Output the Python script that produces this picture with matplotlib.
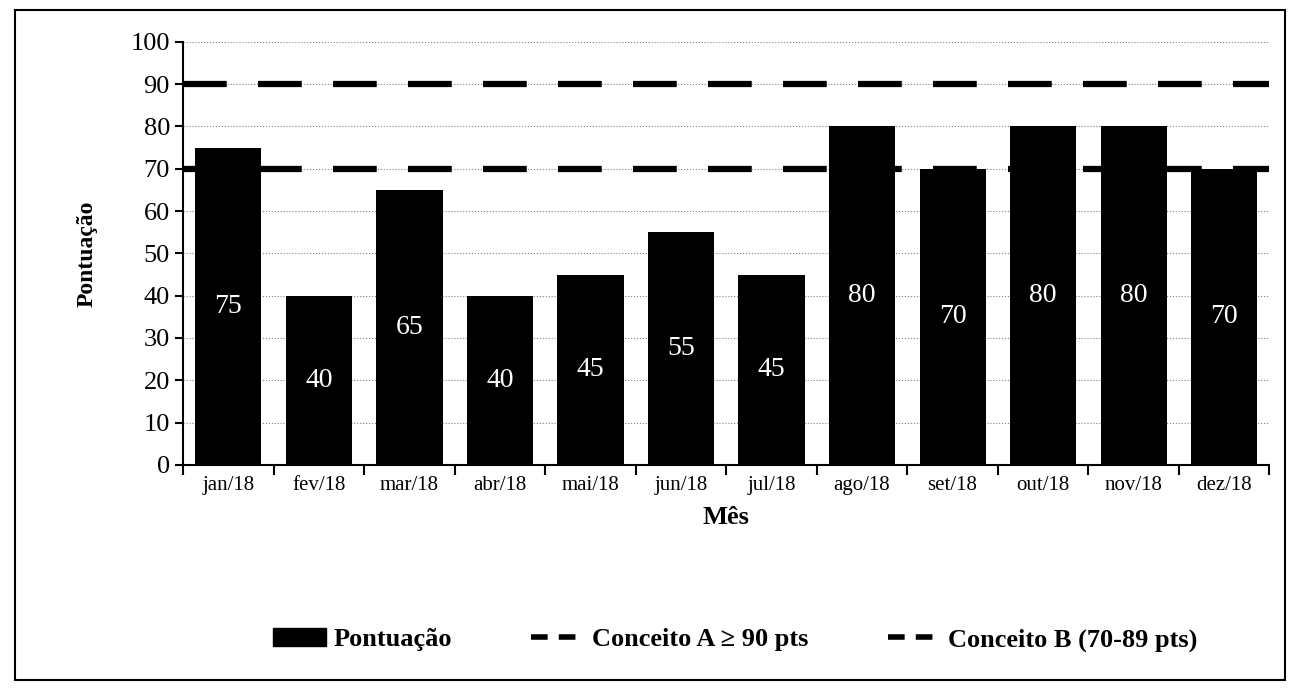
import matplotlib.pyplot as plt
import numpy as np
from matplotlib.patches import Rectangle
from matplotlib.lines import Line2D
from matplotlib.ticker import FixedLocator

plt.rcParams['font.family'] = ['Liberation Serif', 'DejaVu Serif']

meses = ['jan/18', 'fev/18', 'mar/18', 'abr/18', 'mai/18', 'jun/18',
         'jul/18', 'ago/18', 'set/18', 'out/18', 'nov/18', 'dez/18']
pontuacao = [75, 40, 65, 40, 45, 55, 45, 80, 70, 80, 80, 70]
conceito_a = 90
conceito_b = 70

fig = plt.figure(figsize=(12.9, 6.97), dpi=100)
ax = fig.add_axes([0.142, 0.333, 0.842, 0.607])

x = np.arange(len(meses))
barras = ax.bar(x, pontuacao, width=0.73, color='black', zorder=2)
ax.bar_label(barras, labels=[str(v) for v in pontuacao], label_type='center',
             color='white', fontsize=20)

# linhas de conceito (tracejadas)
ax.axhline(conceito_a, color='black', lw=4.5, dashes=(7, 5), zorder=3)
ax.axhline(conceito_b, color='black', lw=4.5, dashes=(7, 5), zorder=1)

ax.set_xlim(-0.5, len(meses) - 0.5)
ax.set_ylim(0, 100)
ax.set_yticks(range(0, 101, 10))
ax.tick_params(axis='y', labelsize=19, direction='out', length=6, width=1.5)
ax.set_xticks(x)
ax.set_xticklabels(meses, fontsize=15)
ax.tick_params(axis='x', which='major', length=0, pad=8)
ax.xaxis.set_minor_locator(FixedLocator(np.arange(-0.5, len(meses), 1)))
ax.tick_params(axis='x', which='minor', length=7, width=1.5, direction='out')

ax.grid(axis='y', color='gray', ls=':', lw=0.8, zorder=0)
ax.set_axisbelow(True)
for s in ['top', 'right']:
    ax.spines[s].set_visible(False)
ax.spines['left'].set_linewidth(1.5)
ax.spines['bottom'].set_linewidth(1.5)

ax.set_xlabel('Mês', fontsize=19, fontweight='bold', labelpad=8)
ax.set_ylabel('Pontuação', fontsize=17, fontweight='bold', labelpad=24)

handles = [
    Rectangle((0, 0), 1, 1, color='black'),
    Line2D([], [], color='black', lw=4, dashes=(3, 2)),
    Line2D([], [], color='black', lw=4, dashes=(3, 2)),
]
nomes = ['Pontuação', 'Conceito A ≥ 90 pts', 'Conceito B (70-89 pts)']
fig.legend(handles, nomes, loc='center', bbox_to_anchor=(0.57, 0.082), ncol=3,
           frameon=False, prop={'size': 19, 'weight': 'bold'},
           columnspacing=3.0, handlelength=2.0, handletextpad=0.3)

# moldura externa
fig.patches.append(Rectangle((0.012, 0.025), 0.984, 0.96, transform=fig.transFigure,
                             fill=False, edgecolor='black', lw=1.5))

fig.savefig('out.png', dpi=100)
